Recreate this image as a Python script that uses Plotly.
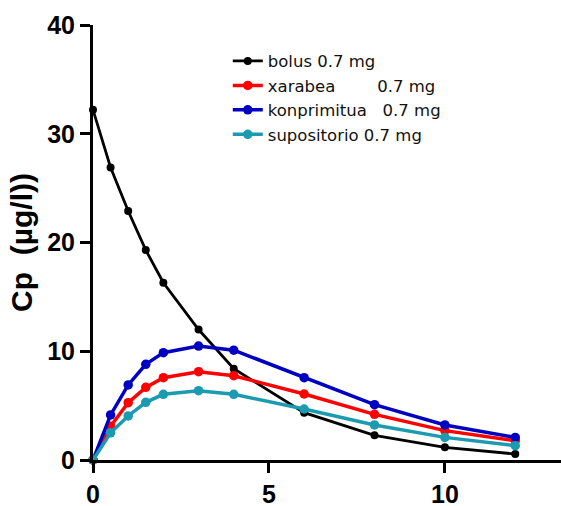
import plotly.graph_objects as go

time_h = [0, 0.5, 1, 1.5, 2, 3, 4, 6, 8, 10, 12]
bolus = [32.2, 26.9, 22.9, 19.3, 16.3, 12.0, 8.4, 4.35, 2.27, 1.17, 0.55]
xarabea = [0, 3.1, 5.27, 6.68, 7.57, 8.12, 7.75, 6.07, 4.2, 2.7, 1.78]
konprimitua = [0, 4.14, 6.9, 8.8, 9.87, 10.48, 10.1, 7.57, 5.09, 3.22, 2.08]
supositorio = [0, 2.5, 4.05, 5.3, 6.04, 6.37, 6.04, 4.69, 3.22, 2.08, 1.32]

names = ["bolus 0.7 mg",
         "xarabea\u00a0\u00a0\u00a0\u00a0\u00a0\u00a0\u00a0 0.7 mg",
         "konprimitua\u00a0\u00a0 0.7 mg",
         "supositorio 0.7 mg"]
series = [bolus, xarabea, konprimitua, supositorio]
colors = ["#000000", "#ff0000", "#0000c0", "#1a9bb0"]
widths = [2.8, 3.5, 3.5, 3.5]
msizes = [8, 9.5, 9.5, 9.5]

fig = go.Figure()
for nm, ys, c, w, ms in zip(names, series, colors, widths, msizes):
    fig.add_trace(go.Scatter(
        x=time_h, y=ys, name=nm, mode="lines+markers",
        line=dict(color=c, width=w),
        marker=dict(color=c, size=ms),
        cliponaxis=False,
    ))

fig.update_layout(
    width=561, height=506,
    margin=dict(l=93, r=0, t=25, b=46),
    plot_bgcolor="white", paper_bgcolor="white",
    showlegend=True,
    legend=dict(x=0.288, y=0.957, xanchor="left", yanchor="top",
                font=dict(family="DejaVu Sans", size=16.5, color="#111"),
                bgcolor="rgba(0,0,0,0)", itemwidth=30, tracegroupgap=0),
    font=dict(family="Liberation Sans, Arial", color="black"),
)
fig.update_xaxes(range=[0, 13.3], tickvals=[0, 5, 10], showline=True, linewidth=3,
                 linecolor="black", ticks="outside", ticklen=10, tickwidth=3,
                 tickcolor="black", showgrid=False, zeroline=False, automargin=False,
                 tickfont=dict(family="Liberation Sans, Arial", size=25, color="black", weight="bold"))
fig.update_yaxes(range=[0, 40], tickvals=[0, 10, 20, 30, 40], showline=True, linewidth=3,
                 linecolor="black", ticks="outside", ticklen=10, tickwidth=3,
                 tickcolor="black", showgrid=False, zeroline=False, automargin=False,
                 tickfont=dict(family="Liberation Sans, Arial", size=25, color="black", weight="bold"),
                 title=dict(text="Cp\u00a0 (µg/l))", standoff=6,
                            font=dict(family="Liberation Sans, Arial", size=30, color="black", weight="bold")))

fig.write_html("out.html", config={"displayModeBar": False},
               post_script="document.body.style.margin='0';document.body.style.overflow='hidden';")
